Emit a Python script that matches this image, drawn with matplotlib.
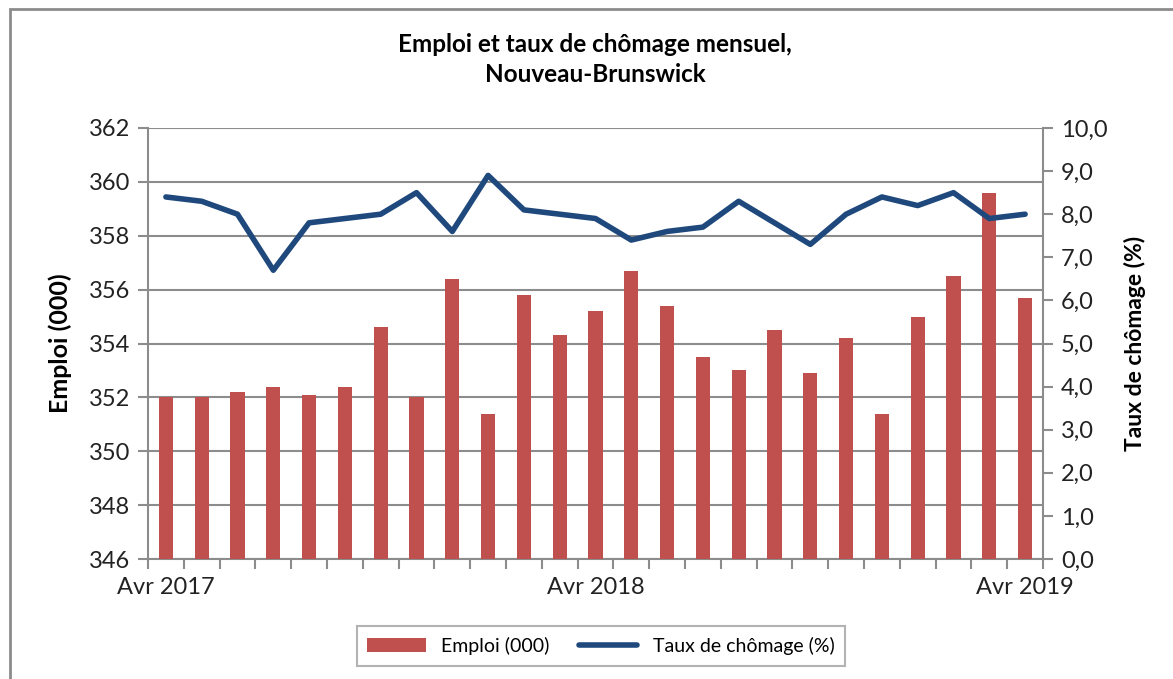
import matplotlib
matplotlib.use("Agg")
import matplotlib.pyplot as plt
from matplotlib.patches import Rectangle
from matplotlib.ticker import FixedLocator, FuncFormatter

plt.rcParams['font.family'] = ['Lato', 'DejaVu Sans']

months = ["Avr 2017", "Mai 2017", "Juin 2017", "Juil 2017", "Août 2017", "Sept 2017",
          "Oct 2017", "Nov 2017", "Déc 2017", "Janv 2018", "Févr 2018", "Mars 2018",
          "Avr 2018", "Mai 2018", "Juin 2018", "Juil 2018", "Août 2018", "Sept 2018",
          "Oct 2018", "Nov 2018", "Déc 2018", "Janv 2019", "Févr 2019", "Mars 2019",
          "Avr 2019"]
emploi = [352.0, 352.0, 352.2, 352.4, 352.1, 352.4, 354.6, 352.0, 356.4, 351.4,
          355.8, 354.3, 355.2, 356.7, 355.4, 353.5, 353.0, 354.5, 352.9, 354.2,
          351.4, 355.0, 356.5, 359.6, 355.7]
chomage = [8.4, 8.3, 8.0, 6.7, 7.8, 7.9, 8.0, 8.5, 7.6, 8.9, 8.1, 8.0, 7.9, 7.4,
           7.6, 7.7, 8.3, 7.8, 7.3, 8.0, 8.4, 8.2, 8.5, 7.9, 8.0]
shown_labels = {0: "Avr 2017", 12: "Avr 2018", 24: "Avr 2019"}

W, H = 1173, 679
fig = plt.figure(figsize=(W / 100, H / 100), dpi=100)
ax = fig.add_axes([148 / W, 1 - 559 / H, (1043 - 148) / W, (559 - 128) / H])
ax2 = ax.twinx()

grey = "#8c8c8c"
txt = "#222222"
x = list(range(len(months)))
ax.bar(x, emploi, width=0.4, color="#c0504d", bottom=0, zorder=3, label="Emploi (000)")
ax.set_ylim(346, 362)
ax.set_xlim(-0.5, len(months) - 0.5)
ax.set_yticks(range(346, 363, 2))
ax.yaxis.grid(True, color=grey, linewidth=1.5, zorder=0)
ax.set_axisbelow(True)

ax2.plot(x, chomage, color="#1f497d", linewidth=4.0, solid_joinstyle="round",
         solid_capstyle="round", zorder=4, label="Taux de chômage (%)")
ax2.set_ylim(0, 10)
ax2.set_yticks([i for i in range(11)])
ax2.yaxis.set_major_formatter(FuncFormatter(lambda v, p: f"{v:.1f}".replace(".", ",")))

# x ticks between categories, labels at selected categories
ax.xaxis.set_major_locator(FixedLocator([i - 0.5 for i in range(len(months) + 1)]))
ax.xaxis.set_major_formatter(FuncFormatter(lambda v, p: ""))
ax.xaxis.set_minor_locator(FixedLocator(list(shown_labels.keys())))
ax.xaxis.set_minor_formatter(FuncFormatter(lambda v, p: shown_labels.get(int(round(v)), "")))
ax.tick_params(axis="x", which="major", length=7, width=1.5, color=grey, direction="out")
ax.tick_params(axis="x", which="minor", length=0, labelsize=17, pad=13, labelcolor=txt)
ax.tick_params(axis="y", length=7, width=1.5, color=grey, labelsize=17, pad=6, labelcolor=txt)
ax2.tick_params(axis="y", length=7, width=1.5, color=grey, labelsize=17, pad=6, labelcolor=txt)

for a in (ax, ax2):
    for s in a.spines.values():
        s.set_visible(False)
ax.spines["left"].set_visible(True)
ax.spines["left"].set_color(grey)
ax.spines["left"].set_linewidth(1.5)
ax.spines["bottom"].set_visible(True)
ax.spines["bottom"].set_color(grey)
ax.spines["bottom"].set_linewidth(1.5)
ax2.spines["right"].set_visible(True)
ax2.spines["right"].set_color(grey)
ax2.spines["right"].set_linewidth(1.5)

ax.set_ylabel("Emploi (000)", fontsize=18, fontweight="bold", labelpad=12)
ax2.set_ylabel("Taux de chômage (%)", fontsize=16.5, fontweight="bold", labelpad=12)

fig.text(595 / W, 1 - 45 / H, "Emploi et taux de chômage mensuel,", ha="center", va="center",
         fontsize=17.5, fontweight="bold")
fig.text(595 / W, 1 - 75 / H, "Nouveau-Brunswick", ha="center", va="center",
         fontsize=17.5, fontweight="bold")

h1, l1 = ax.get_legend_handles_labels()
h2, l2 = ax2.get_legend_handles_labels()
leg = fig.legend(h1 + h2, l1 + l2, loc="center", bbox_to_anchor=(601 / W, 1 - 646 / H),
                 ncol=2, frameon=True, fancybox=False, fontsize=14, handlelength=3,
                 columnspacing=1.5, borderpad=0.55, edgecolor="#a0a0a0")
leg.get_frame().set_linewidth(1.5)

fig.add_artist(Rectangle((10 / W, -0.1), 1.2, 1 - 9 / H + 0.1, transform=fig.transFigure,
                         fill=False, edgecolor=grey, linewidth=2))

fig.savefig("out.png", dpi=100)
